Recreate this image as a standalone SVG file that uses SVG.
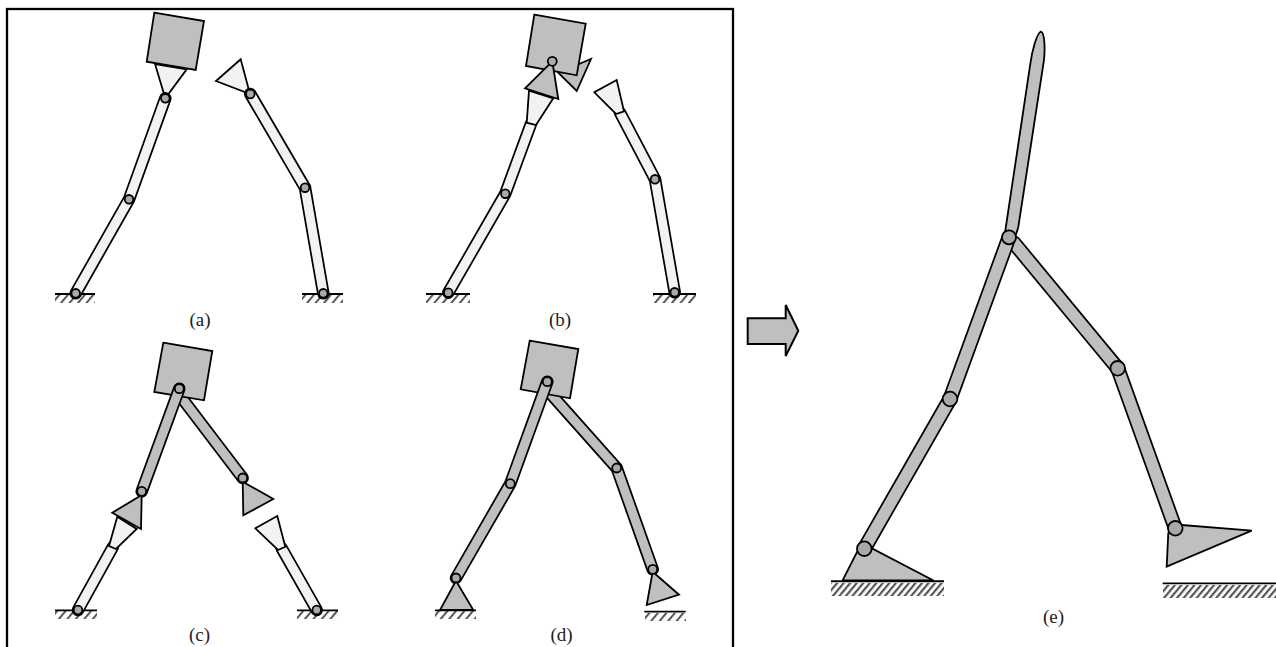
<svg xmlns="http://www.w3.org/2000/svg" width="1276" height="647" viewBox="0 0 1276 647">
<style>
text{font-family:"Liberation Serif","Times New Roman",serif;font-size:19px;fill:#222;text-anchor:middle}
.o{fill:none;stroke:#000;stroke-width:12.500;stroke-linecap:round;stroke-linejoin:miter}
.lt{fill:none;stroke:#f2f2f2;stroke-width:9;stroke-linecap:round;stroke-linejoin:miter}
.dk{fill:none;stroke:#bfbfbf;stroke-width:9;stroke-linecap:round;stroke-linejoin:miter}
.oe{fill:none;stroke:#000;stroke-width:15;stroke-linecap:round}
.de{fill:none;stroke:#bfbfbf;stroke-width:11.500;stroke-linecap:round}
.g{fill:#bfbfbf;stroke:#000;stroke-width:1.800;stroke-linejoin:miter}
.l{fill:#f2f2f2;stroke:#000;stroke-width:1.800;stroke-linejoin:miter}
.j{fill:#a9a9a9;stroke:#000;stroke-width:1.800}
.gl{stroke:#000;stroke-width:1.800;fill:none}
.h{fill:url(#hatch)}
.h2{fill:url(#hatch2)}
</style>
<defs>
<pattern id="hatch" width="6.500" height="6.500" patternUnits="userSpaceOnUse" patternTransform="rotate(40)"><rect width="2" height="6.500" fill="#555"/></pattern>
<pattern id="hatch2" width="5" height="5" patternUnits="userSpaceOnUse" patternTransform="rotate(40)"><rect width="2.200" height="5" fill="#555"/></pattern>
</defs>
<rect id="frame" x="7" y="9" width="726" height="642" fill="none" stroke="#000" stroke-width="2.300"/>
<g id="panel-a">
<rect class="h" x="55" y="295" width="40" height="8"/><path class="gl" d="M55 294H95"/>
<rect class="h" x="302" y="295" width="41" height="8"/><path class="gl" d="M302 294H343"/>
<path class="l" d="M155 64L186.700 69.300L165.300 98.300Z"/>
<path class="g" d="M154.300 12.700L204 21L195.700 70L146.700 61.700Z"/>
<path class="o" d="M165.300 98.300L129 199.300L75.700 293.300"/><path class="lt" d="M165.300 98.300L129 199.300L75.700 293.300"/>
<path class="l" d="M240.700 59.300L216 81L250 94Z"/>
<path class="o" d="M250.300 94L305 187.700L323.300 293.300"/><path class="lt" d="M250.300 94L305 187.700L323.300 293.300"/>
<circle class="j" cx="165.300" cy="98.300" r="4.300"/><circle class="j" cx="129" cy="199.300" r="4.300"/><circle class="j" cx="75.700" cy="293.300" r="4.300"/>
<circle class="j" cx="250.300" cy="94" r="4.300"/><circle class="j" cx="305" cy="187.700" r="4.300"/><circle class="j" cx="323.300" cy="293.300" r="4.300"/>
<text x="200" y="326">(a)</text>
</g>
<g id="panel-b">
<rect class="h" x="426" y="295" width="44" height="8"/><path class="gl" d="M426 294H470"/>
<rect class="h" x="653" y="295" width="43" height="8"/><path class="gl" d="M653 294H696"/>
<path class="g" d="M591 59L576.700 91L558.300 72.700Z"/>
<path class="g" d="M534.300 14.700L585.700 23.700L576.700 75.300L526 66Z"/>
<path class="o" d="M531 123.700L505.300 193.700L448.300 292.700"/><path class="lt" d="M531 123.700L505.300 193.700L448.300 292.700"/>
<path class="l" d="M529 90.700L553.300 98.300L536 125L526.700 122.700Z"/>
<path class="g" d="M552.300 61.300L525 88.300L558.300 99Z"/>
<path class="o" d="M620 112.700L655 179.300L674.700 292.300"/><path class="lt" d="M620 112.700L655 179.300L674.700 292.300"/>
<path class="l" d="M616.700 80L594.300 92.300L616 114L624 111.300Z"/>
<circle class="j" cx="552.300" cy="61.300" r="4.500"/><circle class="j" cx="505.300" cy="193.700" r="4.300"/><circle class="j" cx="448.300" cy="292.700" r="4.300"/>
<circle class="j" cx="655" cy="179.300" r="4.300"/><circle class="j" cx="674.700" cy="292.300" r="4.300"/>
<text x="560" y="326">(b)</text>
</g>
<g id="panel-c">
<rect class="h" x="55" y="611" width="42" height="8"/><path class="gl" d="M55 610.300H97"/>
<rect class="h" x="297" y="611" width="41" height="8"/><path class="gl" d="M297 610.300H338"/>
<path class="o" d="M182 398.300L242.700 478"/><path class="dk" d="M182 398.300L242.700 478"/>
<path class="g" d="M163.300 342.700L212.300 351L204 400.300L154.300 392Z"/>
<path class="o" d="M179.300 388.700L141.700 491.300"/><path class="dk" d="M179.300 388.700L141.700 491.300"/>
<path class="o" d="M112.700 547.300L78 610"/><path class="lt" d="M112.700 547.300L78 610"/>
<path class="l" d="M117.300 516.700L136.700 529L116 549L109 546Z"/>
<path class="g" d="M141.700 495L112.300 512.700L141 529Z"/>
<path class="g" d="M242.700 481.700L273.300 499L243.300 515.300Z"/>
<path class="o" d="M281.700 548.300L316.700 610"/><path class="lt" d="M281.700 548.300L316.700 610"/>
<path class="l" d="M277.300 516L255.300 528.300L278 550L285.300 546.700Z"/>
<circle class="j" cx="179.300" cy="388.700" r="4.500"/><circle class="j" cx="141.700" cy="491.300" r="4.500"/><circle class="j" cx="242.700" cy="478" r="4.500"/>
<circle class="j" cx="78" cy="610" r="4.300"/><circle class="j" cx="316.700" cy="610" r="4.300"/>
<text x="199.500" y="641">(c)</text>
</g>
<g id="panel-d">
<rect class="h" x="435" y="611" width="41" height="8"/><path class="gl" d="M435 610.300H476"/>
<rect class="h" x="645" y="613" width="41" height="8"/><path class="gl" d="M644.300 611.700H685.700"/>
<path class="o" d="M551.700 395L616.700 468L652.700 569.300"/><path class="dk" d="M551.700 395L616.700 468L652.700 569.300"/>
<path class="g" d="M529.700 340.700L578.300 349L570 398.300L520.700 389.300Z"/>
<path class="o" d="M547.300 381.700L510.300 483.700L456 578"/><path class="dk" d="M547.300 381.700L510.300 483.700L456 578"/>
<path class="g" d="M456 580.700L440 610L473.300 610Z"/>
<path class="g" d="M652.700 571.700L646.700 605L679 594.700Z"/>
<circle class="j" cx="547.300" cy="381.700" r="4.500"/><circle class="j" cx="510.300" cy="483.700" r="4.500"/><circle class="j" cx="456" cy="578" r="4.500"/>
<circle class="j" cx="616.700" cy="468" r="4.500"/><circle class="j" cx="652.700" cy="569.300" r="4.500"/>
<text x="561.500" y="641">(d)</text>
</g>
<path id="arrow" class="g" style="stroke-width:2" d="M747.700 318.300H785.700V305L798.300 330.700L785.700 356V344H747.700Z"/>
<g id="panel-e">
<rect class="h2" x="831" y="583" width="113" height="13"/><path class="gl" style="stroke-width:2" d="M831 581.300H944"/>
<rect class="h2" x="1163" y="585" width="113" height="13"/><path class="gl" d="M1162.700 583.300H1276"/>
<path class="g" d="M1004.500 236L1030 66C1032 50 1037 33 1041 31.500C1045 33 1045 50 1044 60L1018.300 227Q1017 233 1014 238Z"/>
<path class="oe" d="M1014 243L1117.700 368.300L1175.300 528.300"/><path class="de" d="M1014 243L1117.700 368.300L1175.300 528.300"/>
<path class="oe" d="M1009 237.300L950 399L864.300 548.700"/><path class="de" d="M1009 237.300L950 399L864.300 548.700"/>
<path class="g" d="M858 550L873 549L933.500 580.500H842.500Z"/>
<path class="g" d="M1181.700 525L1251.700 530.700L1166.700 566.700L1168.300 533Z"/>
<circle class="j" cx="1009" cy="237.300" r="7"/><circle class="j" cx="950" cy="399" r="7.300"/><circle class="j" cx="864.300" cy="548.700" r="7.300"/>
<circle class="j" cx="1117.700" cy="368.300" r="7.300"/><circle class="j" cx="1175.300" cy="528.300" r="7.300"/>
<text x="1053.500" y="623">(e)</text>
</g>
</svg>
